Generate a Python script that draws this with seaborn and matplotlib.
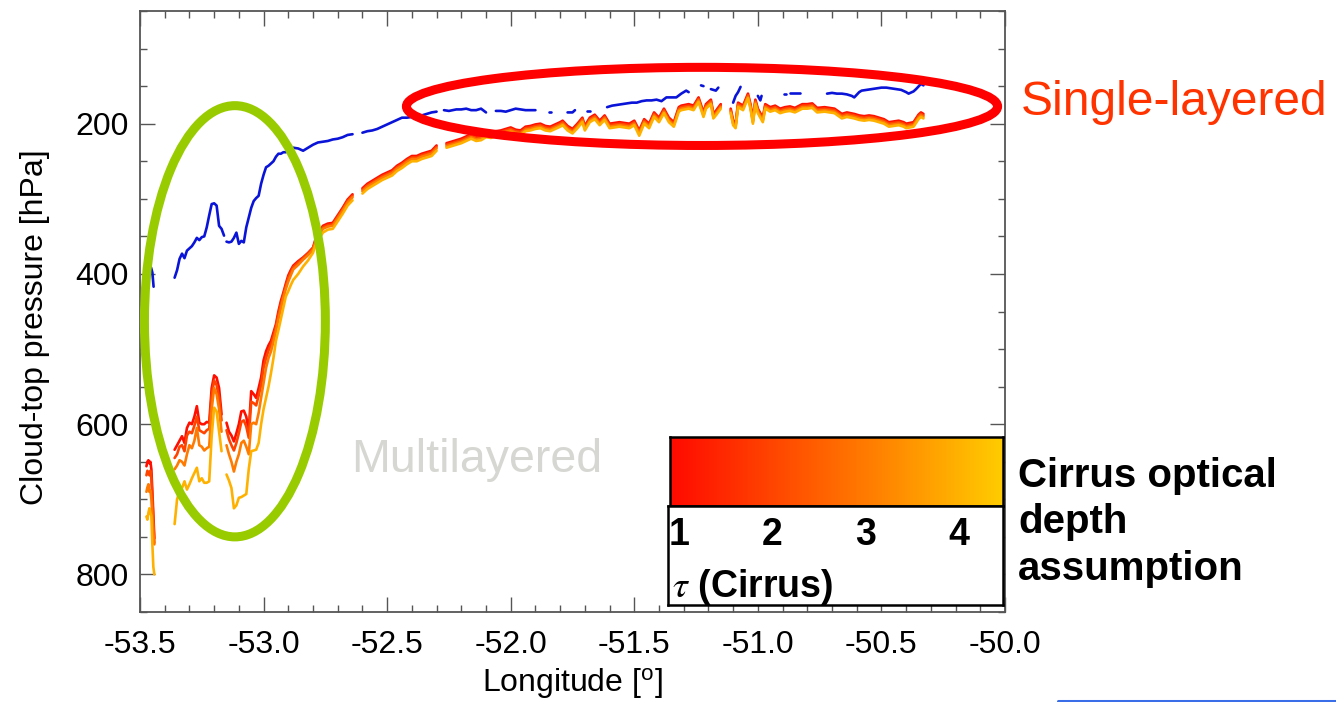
import numpy as np
import pandas as pd
import matplotlib
matplotlib.use("Agg")
import matplotlib.pyplot as plt
import seaborn as sns
from matplotlib.patches import Ellipse
from matplotlib.colors import LinearSegmentedColormap
from matplotlib.lines import Line2D
from matplotlib.ticker import MultipleLocator

nan = np.nan

# ---------------- data ----------------
# Longitudes for the cirrus-assumption retrievals (tau = 1..4)
lon_left = [-53.474, -53.470, -53.466, -53.462, -53.458, -53.454, -53.450, -53.446, -53.442, -53.40,
            -53.36, -53.35, -53.34, -53.33, -53.32, -53.31, -53.30, -53.29, -53.28, -53.27,
            -53.26, -53.25, -53.24, -53.23, -53.22, -53.21, -53.20, -53.19, -53.18, -53.17,
            -53.16, -53.15, -53.14, -53.13, -53.12, -53.11, -53.10, -53.09, -53.08, -53.07,
            -53.06, -53.05, -53.04, -53.03, -53.02, -53.01, -53.00, -52.99, -52.98, -52.97,
            -52.96, -52.95, -52.94, -52.93, -52.92, -52.91, -52.90, -52.89, -52.88, -52.86,
            -52.84, -52.82, -52.80]
tau1_left = [656, 650, 648, 652, 650, 660, 690, 720, 752, nan,
             634, 628, 622, 616, 625, 605, 598, 600, 590, 576,
             598, 600, 600, 597, 598, 552, 535, 538, 552, 587,
             nan, 598, 610, 615, 623, 612, 600, 583, 582, 590,
             609, 556, 560, 565, 552, 538, 515, 503, 495, 489,
             478, 467, 450, 436, 425, 413, 402, 395, 389, 383,
             378, 372, 365]
tau2_left = [668, 662, 665, 668, 662, 672, 700, 730, 758, nan,
             645, 640, 630, 628, 636, 615, 610, 612, 602, 590,
             608, 610, 612, 608, 606, 562, 542, 548, 565, 595,
             nan, 608, 620, 628, 635, 625, 612, 597, 595, 603,
             618, 570, 572, 575, 562, 548, 525, 512, 502, 494,
             483, 470, 454, 440, 428, 416, 405, 398, 391, 385,
             379, 373, 366]
tau3_left = [690, 684, 680, 690, 688, 700, 722, 745, 760, nan,
             660, 655, 648, 650, 655, 640, 628, 632, 622, 605,
             628, 630, 635, 632, 630, 580, 552, 560, 580, 610,
             nan, 628, 640, 650, 663, 650, 640, 625, 622, 630,
             640, 600, 598, 600, 585, 565, 545, 525, 512, 503,
             490, 476, 460, 446, 432, 420, 410, 402, 394, 388,
             381, 375, 368]
tau4_left = [723, 727, 718, 712, 718, 722, 760, 790, 800, nan,
             733, 700, 690, 685, 676, 687, 680, 672, 665, 658,
             676, 672, 678, 678, 676, 616, 578, 583, 610, 636,
             nan, 667, 675, 685, 712, 708, 698, 697, 695, 693,
             660, 636, 635, 634, 625, 600, 580, 565, 550, 532,
             512, 489, 475, 460, 445, 430, 423, 415, 408, 400,
             390, 382, 372]

lon_upper = [-52.79, -52.78, -52.76, -52.74, -52.72, -52.70, -52.68, -52.66, -52.64, -52.62,
             -52.60, -52.58, -52.56, -52.54, -52.52, -52.50, -52.48, -52.46, -52.44, -52.42,
             -52.40, -52.38, -52.36, -52.34, -52.32, -52.30, -52.28, -52.26, -52.24, -52.22,
             -52.20, -52.18, -52.16, -52.14, -52.12, -52.10, -52.08, -52.06, -52.04, -52.02,
             -52.00, -51.98, -51.96, -51.94, -51.92, -51.90, -51.88, -51.86, -51.84, -51.82,
             -51.80, -51.79, -51.77, -51.75, -51.73, -51.71, -51.70, -51.68, -51.66, -51.64,
             -51.62, -51.60, -51.58, -51.56, -51.54, -51.52, -51.50, -51.48, -51.46, -51.44,
             -51.42, -51.40, -51.38, -51.36, -51.34, -51.32, -51.31, -51.28, -51.26, -51.24,
             -51.22, -51.21, -51.19, -51.18, -51.17, -51.15, -51.13, -51.11, -51.10, -51.09,
             -51.08, -51.06, -51.04, -51.03, -51.02, -51.01, -51.00, -50.98, -50.97, -50.95,
             -50.93, -50.91, -50.89, -50.87, -50.85, -50.82, -50.80, -50.78, -50.76, -50.73,
             -50.71, -50.69, -50.66, -50.64, -50.61, -50.59, -50.57, -50.55, -50.53, -50.51,
             -50.49, -50.47, -50.45, -50.43, -50.41, -50.40, -50.37, -50.35, -50.34, -50.33]
tau1_upper = [354, 348, 336, 333, 332, 322, 312, 301, 294, nan,
              286, 280, 276, 272, 268, 265, 262, 256, 252, 247,
              243, 243, 240, 238, 236, 229, nan, 226, 224, 222,
              220, 217, 214, 217, 216, 212, 213, 210, 209, 207,
              205, 208, 209, 204, 203, 201, 200, 203, 204, 201,
              198, 196, 203, 207, 200, 192, 203, 192, 188, 196,
              189, 200, 199, 198, 199, 200, 196, 209, 194, 200,
              185, 192, 180, 192, 198, 178, 176, 174, 176, 165,
              185, 174, 168, 187, 183, 174, nan, 180, 196, 200,
              172, 176, 160, 174, 194, 168, 180, 192, 174, 178,
              176, 180, 178, 177, 179, 174, 174, 173, 179, 178,
              179, 180, 187, 185, 187, 189, 190, 189, 190, 192,
              194, 198, 197, 196, 198, 200, 198, 188, 185, 187]
tau2_upper = [356, 350, 338, 335, 334, 324, 314, 303, 296, nan,
              288, 282, 278, 274, 270, 267, 264, 258, 254, 249,
              245, 245, 242, 240, 238, 231, nan, 228, 226, 224,
              222, 219, 216, 219, 218, 214, 215, 212, 211, 209,
              207, 210, 211, 206, 205, 203, 202, 205, 206, 203,
              200, 198, 205, 209, 202, 194, 205, 194, 190, 198,
              191, 202, 201, 200, 201, 202, 198, 211, 196, 202,
              187, 194, 182, 194, 200, 180, 178, 176, 178, 167,
              187, 176, 170, 189, 185, 176, nan, 182, 198, 202,
              174, 178, 162, 176, 196, 170, 182, 194, 176, 180,
              178, 182, 180, 179, 181, 176, 176, 175, 181, 180,
              181, 182, 189, 187, 189, 191, 192, 191, 192, 194,
              196, 200, 199, 198, 200, 202, 200, 190, 187, 189]
tau3_upper = [358, 352, 340, 337, 336, 326, 316, 305, 298, nan,
              290, 284, 280, 276, 272, 269, 266, 260, 256, 251,
              247, 247, 244, 242, 240, 233, nan, 230, 228, 226,
              224, 221, 218, 221, 220, 216, 217, 214, 213, 211,
              209, 212, 213, 208, 207, 205, 204, 207, 208, 205,
              202, 200, 207, 211, 204, 196, 207, 196, 192, 200,
              193, 204, 203, 202, 203, 204, 200, 213, 198, 204,
              189, 196, 184, 196, 202, 182, 180, 178, 180, 169,
              189, 178, 172, 191, 187, 178, nan, 184, 200, 204,
              176, 180, 164, 178, 198, 172, 184, 196, 178, 182,
              180, 184, 182, 181, 183, 178, 178, 177, 183, 182,
              183, 184, 191, 189, 191, 193, 194, 193, 194, 196,
              198, 202, 201, 200, 202, 204, 202, 192, 189, 191]
tau4_upper = [362, 356, 345, 341, 340, 330, 320, 309, 302, nan,
              293, 287, 283, 279, 275, 272, 269, 263, 259, 254,
              250, 250, 247, 245, 243, 236, nan, 232, 230, 228,
              226, 223, 220, 223, 222, 218, 219, 216, 215, 213,
              211, 214, 215, 210, 209, 207, 206, 209, 210, 207,
              204, 202, 209, 213, 206, 198, 209, 198, 194, 202,
              195, 206, 205, 204, 205, 206, 202, 216, 200, 206,
              191, 198, 186, 198, 204, 184, 182, 180, 182, 171,
              191, 180, 174, 193, 189, 180, nan, 186, 202, 206,
              178, 182, 166, 180, 200, 174, 186, 198, 180, 184,
              182, 186, 184, 183, 185, 180, 180, 179, 185, 184,
              185, 186, 193, 191, 193, 195, 196, 195, 196, 198,
              200, 204, 203, 202, 204, 206, 204, 194, 191, 193]

# Blue: standard (single-layer) retrieval
lon_blue = [-53.475, -53.465, -53.46, -53.455, -53.45, -53.445, -53.40, -53.36, -53.35, -53.34,
            -53.33, -53.32, -53.31, -53.30, -53.29, -53.28, -53.27, -53.26, -53.25, -53.24,
            -53.23, -53.22, -53.21, -53.20, -53.19, -53.18, -53.17, -53.16, -53.155, -53.15,
            -53.14, -53.13, -53.12, -53.11, -53.10, -53.09, -53.08, -53.07, -53.06, -53.05,
            -53.04, -53.03, -53.02, -53.01, -53.00, -52.99, -52.98, -52.97, -52.96, -52.95,
            -52.94, -52.93, -52.92, -52.91, -52.90, -52.88, -52.86, -52.84, -52.82, -52.80,
            -52.78, -52.76, -52.74, -52.72, -52.70, -52.68, -52.66, -52.64, -52.62, -52.60,
            -52.58, -52.56, -52.54, -52.52, -52.50, -52.48, -52.46, -52.44, -52.42, -52.40,
            -52.38, -52.36, -52.34, -52.32, -52.30, -52.285, -52.27, -52.25, -52.22, -52.20,
            -52.18, -52.16, -52.14, -52.12, -52.10, -52.08, -52.06, -52.04, -52.02, -52.00,
            -51.98, -51.96, -51.94, -51.92, -51.90, -51.87, -51.845, -51.835, -51.80, -51.77,
            -51.75, -51.74, -51.71, -51.69, -51.68, -51.65, -51.61, -51.59, -51.57, -51.55,
            -51.53, -51.51, -51.49, -51.47, -51.45, -51.43, -51.41, -51.39, -51.37, -51.35,
            -51.33, -51.31, -51.29, -51.28, -51.25, -51.23, -51.22, -51.20, -51.19, -51.17,
            -51.16, -51.13, -51.10, -51.09, -51.08, -51.07, -51.04, -51.00, -50.99, -50.985,
            -50.95, -50.895, -50.885, -50.88, -50.87, -50.85, -50.83, -50.78, -50.72, -50.70,
            -50.68, -50.66, -50.64, -50.62, -50.61, -50.59, -50.58, -50.56, -50.54, -50.52,
            -50.50, -50.48, -50.46, -50.44, -50.42, -50.40, -50.39, -50.37, -50.36, -50.34,
            -50.33]
p_blue = [400, 392, 388, 392, 398, 417, nan, 405, 395, 380,
          373, 379, 369, 366, 363, 358, 352, 355, 351, 350,
          338, 322, 307, 306, 309, 336, 340, 349, nan, 357,
          358, 357, 352, 345, 360, 356, 358, 338, 325, 312,
          303, 299, 296, 280, 268, 258, 256, 253, 250, 244,
          240, 240, 238, 238, 236, 232, 233, 236, 232, 228,
          225, 224, 223, 221, 220, 218, 215, 214, nan, 212,
          210, 209, 207, 204, 201, 198, 195, 192, 192, 191,
          189, 189, 187, 185, 184, nan, 182, 183, 181, 181,
          180, 182, 182, 180, 185, nan, 183, 183, 184, 182,
          180, 181, 182, 182, 182, nan, 184, 184, nan, 185,
          185, 182, nan, 183, 183, nan, 178, 176, 175, 174,
          173, 172, 172, 170, 169, 169, 168, 170, 165, 165,
          165, 160, 156, 158, nan, 149, 150, nan, 154, 156,
          152, nan, 172, 163, 158, 151, nan, 163, 169, 163,
          nan, 161, 161, nan, 159, 159, 159, nan, 160, 159,
          160, 160, 161, 163, 165, 158, 156, 155, 154, 153,
          152, 152, 153, 154, 155, 158, 160, 157, 154, 147,
          149]

tau_values = [1, 2, 3, 4]
cbar_range = [0.91, 4.5]
cbar_colors = ["#FF0A00", "#FF4A00", "#FF8A00", "#FFCC00"]
xtick_vals = [-53.5, -53.0, -52.5, -52.0, -51.5, -51.0, -50.5, -50.0]
ytick_vals = [200, 400, 600, 800]

# ---------------- build long-form frame ----------------
def segments(lon, p, name):
    n = min(len(lon), len(p))
    lon = np.asarray(lon[:n], float)
    p = np.asarray(p[:n], float)
    seg = np.cumsum(np.isnan(p))
    d = pd.DataFrame({"lon": lon, "p": p, "seg": seg, "series": name})
    return d.dropna()

tau_series = [tau1_left + tau1_upper, tau2_left + tau2_upper,
              tau3_left + tau3_upper, tau4_left + tau4_upper]
lon_tau = lon_left + lon_upper
frames = []
names = []
for t, vals in zip(tau_values, tau_series):
    nm = f"tau{t}"
    names.append(nm)
    frames.append(segments(lon_tau, vals, nm))
frames.append(segments(lon_blue, p_blue, "blue"))
df = pd.concat(frames, ignore_index=True)

cmap = LinearSegmentedColormap.from_list("cirrus", cbar_colors)
palette = {nm: cmap((t - cbar_range[0]) / (cbar_range[1] - cbar_range[0]))
           for nm, t in zip(names, tau_values)}
palette["blue"] = "#0A14D8"

# ---------------- style ----------------
sns.set_theme(style="white")
plt.rcParams["font.family"] = ["Liberation Sans", "DejaVu Sans"]
plt.rcParams["axes.unicode_minus"] = False
plt.rcParams["mathtext.fontset"] = "stix"
plt.rcParams["text.color"] = "black"
plt.rcParams["axes.labelcolor"] = "black"

W, H = 1336, 702
fig = plt.figure(figsize=(W / 100, H / 100), dpi=100)
fig.patch.set_facecolor("white")


def fx(px):
    return px / W


def fy(py):
    return 1 - py / H


ax = fig.add_axes([fx(140), fy(612), (1005 - 140) / W, (612 - 11) / H])
ax.set_facecolor("white")

sns.lineplot(data=df, x="lon", y="p", hue="series", units="seg", estimator=None,
             hue_order=names + ["blue"], palette=palette, linewidth=1.9,
             legend=False, ax=ax)

ax.set_xlim(-53.5, -50.0)
ax.set_ylim(850, 50)
ax.set_xticks(xtick_vals)
ax.set_xticklabels([f"{v:.1f}" for v in xtick_vals])
ax.set_yticks(ytick_vals)
ax.set_yticklabels([str(v) for v in ytick_vals])
ax.xaxis.set_minor_locator(MultipleLocator(0.1))
ax.yaxis.set_minor_locator(MultipleLocator(50))
ax.tick_params(which="both", direction="in", top=True, right=True,
               bottom=True, left=True, color="#555555", labelcolor="black")
ax.tick_params(which="major", length=11, width=1.0, labelsize=23)
ax.tick_params(which="minor", length=5, width=1.0)
ax.tick_params(axis="x", which="major", pad=13)
ax.tick_params(axis="y", which="major", pad=8)
for s in ax.spines.values():
    s.set_visible(True)
    s.set_color("#555555")
    s.set_linewidth(1.3)

ax.set_xlabel("Longitude [$^\\mathregular{o}$]", fontsize=23, va="center",
              color="black")
ax.xaxis.set_label_coords(0.5, (612 - 684) / 601)
ax.set_ylabel("Cloud-top pressure [hPa]", fontsize=23, va="center", color="black")
ax.yaxis.set_label_coords((35 - 140) / 865, (612 - 327) / 601)

# ellipses highlighting regions
ax.add_patch(Ellipse((-53.116, 463), width=0.732, height=574, fill=False,
                     ec="#99CC00", lw=6.5, clip_on=False, zorder=6))
ax.add_patch(Ellipse((-51.226, 177), width=2.392, height=104, fill=False,
                     ec="#FF0000", lw=6.5, clip_on=False, zorder=6))

# annotations
fig.text(fx(1021), fy(115), "Single-layered", fontsize=34.5, color="#FF3300",
         va="baseline", ha="left")
fig.text(fx(351), fy(472), "Multilayered", fontsize=33.5, color="#D6D6D2",
         va="baseline", ha="left")
for line, base in zip(["Cirrus optical", "depth", "assumption"], [487, 533, 580]):
    fig.text(fx(1018), fy(base), line, fontsize=29, fontweight="bold",
             color="black", va="baseline", ha="left")

# colour bar for cirrus optical depth
cax = fig.add_axes([fx(670), fy(506), (1003 - 670) / W, (506 - 437) / H])
grad = np.linspace(cbar_range[0], cbar_range[1], 256).reshape(1, -1)
cax.imshow(grad, aspect="auto", cmap=cmap, extent=[cbar_range[0], cbar_range[1], 0, 1],
           vmin=cbar_range[0], vmax=cbar_range[1])
cax.set_xticks([])
cax.set_yticks([])
for s in cax.spines.values():
    s.set_visible(True)
    s.set_color("black")
    s.set_linewidth(1.8)

lab = fig.add_axes([fx(668), fy(605), (1003 - 668) / W, (605 - 506) / H])
lab.set_facecolor("white")
lab.set_xlim(cbar_range[0], cbar_range[1])
lab.set_ylim(0, 1)
lab.set_xticks([])
lab.set_yticks([])
for s in lab.spines.values():
    s.set_visible(True)
    s.set_color("black")
    s.set_linewidth(1.8)
for t in tau_values:
    lab.text(t + 0.03, (605 - 545) / 99, str(t), fontsize=27, fontweight="bold",
             ha="center", va="baseline", color="black")
lab.text(0.012, (605 - 597) / 99, r"$\tau$ (Cirrus)", transform=lab.transAxes,
         fontsize=27, fontweight="bold", ha="left", va="baseline", color="black")

# slide decoration line at bottom right
fig.add_artist(Line2D([fx(1058), fx(1336)], [fy(700.5), fy(700.5)],
                      color="#3A6EE8", lw=2.2))

fig.savefig("out.png", dpi=100, facecolor="white")
